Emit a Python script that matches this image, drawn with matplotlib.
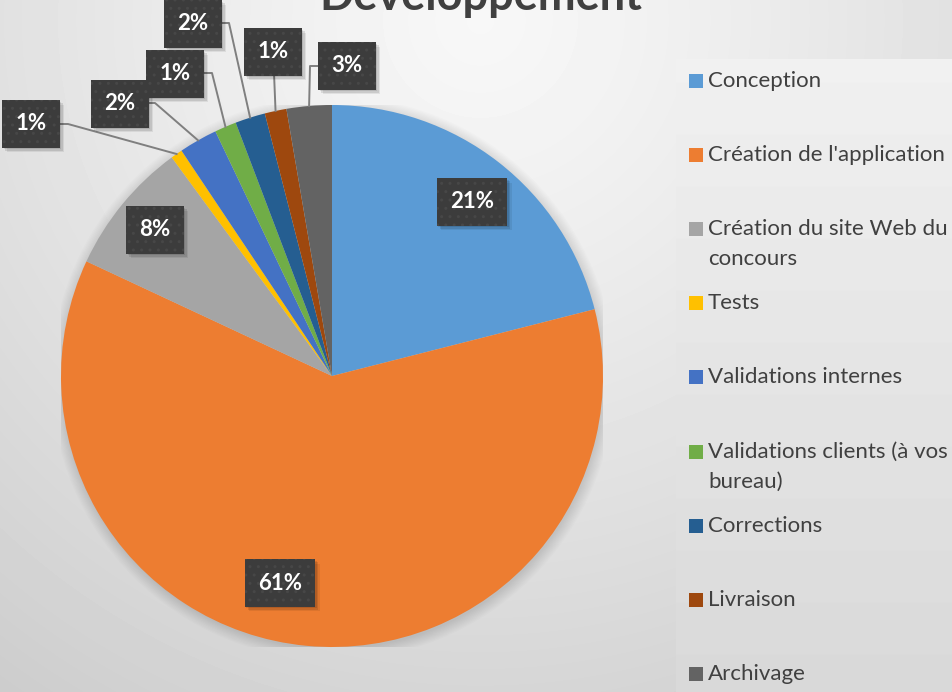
import numpy as np
import matplotlib
matplotlib.use("Agg")
import matplotlib.pyplot as plt
from matplotlib.transforms import IdentityTransform
from matplotlib.patches import Rectangle, Circle

plt.rcParams['font.family'] = ['Lato', 'DejaVu Sans']

# data (share of the total, in %)
categories = ["Conception", "Création de l'application", "Création du site Web du\nconcours",
              "Tests", "Validations internes", "Validations clients (à vos\nbureau)",
              "Corrections", "Livraison", "Archivage"]
shares = [21.1, 61.1, 8.0, 0.7, 2.3, 1.3, 1.8, 1.3, 2.7]
colors = ["#5b9bd5", "#ed7d31", "#a5a5a5", "#ffc000", "#4472c4",
          "#70ad47", "#255e91", "#9e480e", "#636363"]
title = "Développement"

W, H = 953, 692
CX, CY, R = 332, 376, 271   # pie centre / radius in pixels


def px2d(x, y):
    return (x - CX) / R, (CY - y) / R


fig = plt.figure(figsize=(W / 100, H / 100), dpi=100)

# background gradient
bg = fig.add_axes([0, 0, 1, 1], zorder=0)
yy, xx = np.mgrid[0:H, 0:W]
d = np.hypot(xx - 480, yy - 20)
grad = np.clip(0.97 - 0.16 * (d / 790) ** 1.2, 0, 1)
bg.imshow(grad, cmap='gray', vmin=0, vmax=1, extent=[0, W, H, 0], aspect='auto')
# legend panel
lg = np.linspace(0.945, 0.85, H - 59)[:, None] * np.ones((1, W - 676))
bg.imshow(lg, cmap='gray', vmin=0, vmax=1, extent=[676, W, H, 59], aspect='auto')
bg.set_xlim(0, W)
bg.set_ylim(H, 0)
bg.axis('off')

# pie
ax = fig.add_axes([(CX - R) / W, (H - CY - R) / H, 2 * R / W, 2 * R / H], zorder=1)
ax.patch.set_alpha(0)
for r in np.linspace(1.0, 1.04, 10):
    ax.add_patch(Circle((0.004, -0.008), r, color='black', alpha=0.012, lw=0))
wedges, _ = ax.pie(shares, colors=colors, startangle=90, counterclock=False,
                   radius=1, wedgeprops=dict(linewidth=0))
ax.set_xlim(-1, 1)
ax.set_ylim(-1, 1)
ax.axis('off')

total = sum(shares)
pcts = ["%d%%" % round(v / total * 100) for v in shares]

box = dict(boxstyle='square,pad=0.6', fc='#3c3c3c', ec='#474747', lw=0, hatch='..')
labels = []


def add_label(i, cx, cy):
    x, y = px2d(cx, cy)
    t = ax.text(x, y, pcts[i], ha='center', va='center', fontsize=16,
                fontweight='bold', color='white', bbox=box, zorder=5, clip_on=False)
    labels.append(t)


# labels inside the big slices
inside = {0: (472, 202), 1: (280, 583), 2: (155, 230)}
for i, (cx, cy) in inside.items():
    add_label(i, cx, cy)

# labels outside with leader lines: centre, line start, elbow
outside = {3: ((31, 124), (56, 124), (68, 124)),
           4: ((120, 104), (144, 103), (155, 103)),
           5: ((175, 74), (200, 73), (212, 73)),
           6: ((193, 24), (218, 23), (229, 23)),
           7: ((273, 52), (274, 73), (274, 73)),
           8: ((347, 66), (322, 66), (310, 66))}
for i, (c, s, e) in outside.items():
    w = wedges[i]
    ang = np.deg2rad((w.theta1 + w.theta2) / 2)
    sx, sy = px2d(*s)
    ex, ey = px2d(*e)
    ax.plot([sx, ex, np.cos(ang)], [sy, ey, np.sin(ang)], color='#7f7f7f',
            lw=1.4, clip_on=False, zorder=4)
    add_label(i, *c)

# title (cut by the top edge in the original)
fig.text(481 / W, 1 - 10 / H, title, ha='center', va='baseline', fontsize=32.5,
         fontweight='bold', color='#404040', zorder=3)

# legend
for k, (name, col) in enumerate(zip(categories, colors)):
    y = 81 + k * 74.1
    fig.patches.append(Rectangle((689 / W, 1 - (y + 7) / H), 14 / W, 14 / H,
                                 transform=fig.transFigure, fc=col, ec='none', zorder=3))
    for j, line in enumerate(name.split("\n")):
        fig.text(708 / W, 1 - (y + 30 * j) / H, line, ha='left', va='center',
                 fontsize=16, color='#404040', zorder=3)

# soft drop shadow under the label boxes
fig.canvas.draw()
rend = fig.canvas.get_renderer()
for t in labels:
    bb = t.get_bbox_patch().get_window_extent(rend)
    for dx, a in [(1.5, 0.10), (3, 0.10), (4.5, 0.07)]:
        ax.add_patch(Rectangle((bb.x0 + dx, bb.y0 - dx), bb.width, bb.height,
                               transform=IdentityTransform(), fc='black', ec='none',
                               alpha=a, zorder=4.5, clip_on=False))

fig.savefig("out.png", dpi=100)
